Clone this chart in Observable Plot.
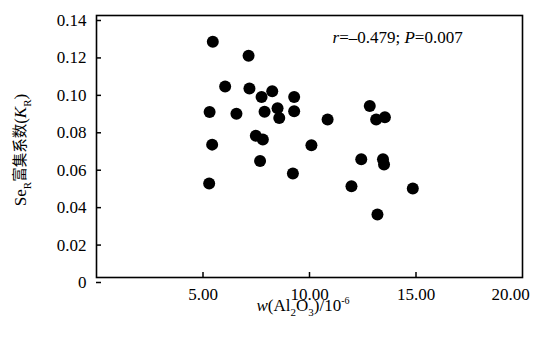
<!DOCTYPE html>
<html>
<head>
<meta charset="utf-8">
<script src="https://cdn.jsdelivr.net/npm/d3@7"></script>
<script src="https://cdn.jsdelivr.net/npm/@observablehq/plot@0.6"></script>
<style>
  html, body { margin: 0; padding: 0; background: #fff; }
  #chart svg, #chart svg text, #chart svg tspan { font-family: "Liberation Serif", "Noto Sans CJK SC", serif !important; }
</style>
</head>
<body>
<div id="chart"></div>
<script>
const al2o3 = [5.46, 7.14, 6.04, 7.18, 8.25, 7.75, 9.28, 5.31, 6.57, 7.89, 8.50, 8.58, 9.28, 10.85, 5.43, 7.48, 7.81, 10.09, 7.68, 9.22, 5.29, 12.83, 13.13, 13.54, 12.43, 13.45, 13.50, 11.97, 14.85, 13.19];
const kR = [0.126, 0.1185, 0.102, 0.101, 0.0995, 0.0964, 0.0964, 0.0884, 0.0875, 0.0886, 0.0904, 0.0852, 0.0888, 0.0844, 0.071, 0.0758, 0.0737, 0.0707, 0.0623, 0.0556, 0.0502, 0.0916, 0.0844, 0.0856, 0.0632, 0.0632, 0.0604, 0.0488, 0.0476, 0.0337];
const xTicks = [5, 10, 15];
const xLastTick = [20];
const yTicks = [0, 0.02, 0.04, 0.06, 0.08, 0.10, 0.12, 0.14];
const annotation = [{x: 11.08, y: 0.1283, parts: [["r", true], ["=–0.479; ", false], ["P", true], ["=0.007", false]]}];
const yLabelParts = [["Se", ""], ["R", "sub"], ["富集系数", "cjk"], ["(", ""], ["K", "italic"], ["R", "sub"], [")", ""]];
const xLabelParts = [["w", "italic"], ["(Al", ""], ["2", "sub"], ["O", ""], ["3", "sub"], [")/10", ""], ["-6", "sup"]];

const data = al2o3.map((x, i) => ({x, y: kR[i]}));

const W = 535, H = 337;
const mL = 96, mR = 13, mT = 15, mB = 60;
const fmtX = d => d.toFixed(2);

const svg = Plot.plot({
  width: W,
  height: H,
  marginLeft: mL,
  marginRight: mR,
  marginTop: mT,
  marginBottom: mB,
  style: {fontFamily: "'Liberation Serif', serif", fontSize: "17px", color: "#000", background: "#fff"},
  x: {domain: [0, 20], label: null},
  y: {domain: [0, 0.14], label: null},
  marks: [
    Plot.frame({stroke: "#000", strokeWidth: 1.6}),
    Plot.axisX({ticks: xTicks, tickSize: -5, tickPadding: 15, strokeWidth: 1.5, tickFormat: fmtX, label: null}),
    Plot.axisX({ticks: xLastTick, tickSize: 0, tickPadding: 10, dx: -12, tickFormat: fmtX, label: null}),
    Plot.axisY({ticks: yTicks, tickSize: -5, tickPadding: 15, strokeWidth: 1.5, dy: 5, tickFormat: d => d === 0 ? "0" : d.toFixed(2), label: null}),
    Plot.dot(data, {x: "x", y: "y", r: 6, fill: "#000", stroke: null}),
    Plot.text(annotation, {x: "x", y: "y", text: d => d.parts.map(p => p[0]).join(""), textAnchor: "start", lineAnchor: "middle", fontSize: 17, fill: "#000", className: "annot"})
  ]
});

// Rich text for annotation
d3.select(svg).selectAll("g.annot text").each(function(d, i) {
  const t = d3.select(this);
  t.text(null);
  annotation[i].parts.forEach(([s, it]) => {
    t.append("tspan").attr("font-style", it ? "italic" : null).text(s);
  });
});

function richText(sel, parts) {
  parts.forEach(([s, kind]) => {
    const ts = sel.append("tspan").text(s);
    if (kind === "italic") ts.attr("font-style", "italic");
    if (kind === "cjk") ts.attr("font-size", "14.5px");
    if (kind === "sub") ts.attr("baseline-shift", "sub").attr("font-size", "11px");
    if (kind === "sup") ts.attr("baseline-shift", "super").attr("font-size", "10px");
  });
}

const plotCX = mL + (W - mL - mR) / 2;
const plotCY = mT + (H - mT - mB) / 2;

const yl = d3.select(svg).append("text")
  .attr("transform", `translate(22,${plotCY + 4}) rotate(-90)`)
  .attr("text-anchor", "middle")
  .attr("dominant-baseline", "middle")
  .attr("font-size", "17px")
  .attr("fill", "#000");
richText(yl, yLabelParts);

const xl = d3.select(svg).append("text")
  .attr("x", plotCX - 6)
  .attr("y", H - 30)
  .attr("text-anchor", "middle")
  .attr("dominant-baseline", "middle")
  .attr("font-size", "17px")
  .attr("fill", "#000");
richText(xl, xLabelParts);

document.getElementById("chart").appendChild(svg);
</script>
</body>
</html>
